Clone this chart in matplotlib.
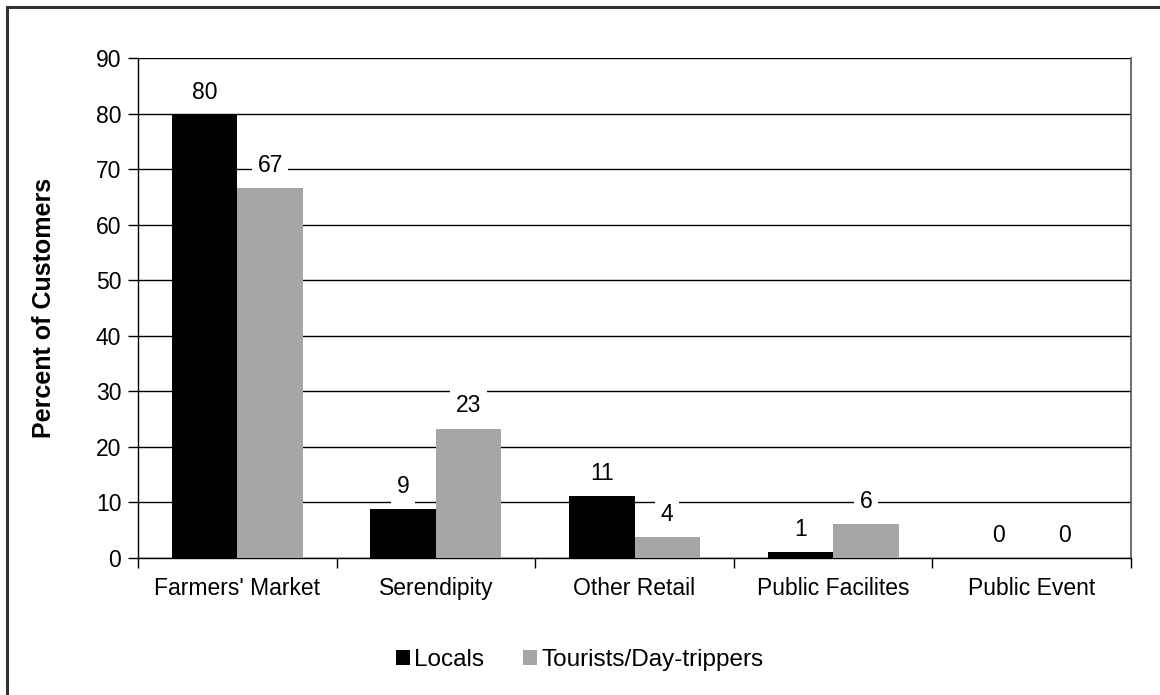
import matplotlib
matplotlib.use("Agg")
import matplotlib.pyplot as plt
import numpy as np
from matplotlib.patches import Rectangle

categories = ["Farmers' Market", "Serendipity", "Other Retail", "Public Facilites", "Public Event"]
locals_vals = [79.7, 8.8, 11.1, 1.1, 0.0]
tourists_vals = [66.6, 23.3, 3.8, 6.1, 0.0]
locals_labels = ["80", "9", "11", "1", "0"]
tourists_labels = ["67", "23", "4", "6", "0"]
series_names = ["Locals", "Tourists/Day-trippers"]
yticks = list(range(0, 91, 10))

plt.rcParams['font.family'] = ['Liberation Sans', 'DejaVu Sans']

W, H = 1160, 695
fig = plt.figure(figsize=(W / 100, H / 100), dpi=100)
ax = fig.add_axes([138 / W, 1 - 558 / H, (1131 - 138) / W, (558 - 58) / H])

FS = 16.5
x = np.arange(len(categories))
bw = 0.33
b1 = ax.bar(x - bw / 2, locals_vals, bw, color='black', label=series_names[0], zorder=3)
b2 = ax.bar(x + bw / 2, tourists_vals, bw, color='#a6a6a6', label=series_names[1], zorder=3)

for rects, labs in ((b1, locals_labels), (b2, tourists_labels)):
    for r, lab in zip(rects, labs):
        ax.annotate(lab, (r.get_x() + r.get_width() / 2, r.get_height()),
                    xytext=(0, 8), textcoords='offset points', ha='center', va='bottom',
                    fontsize=FS, zorder=5,
                    bbox=dict(boxstyle='square,pad=0.25', fc='white', ec='none'))

ax.set_ylim(0, 90)
ax.set_xlim(-0.5, len(categories) - 0.5)
ax.set_yticks(yticks)
ax.set_yticklabels([str(t) for t in yticks], fontsize=FS)
ax.yaxis.grid(True, color='black', linewidth=1, zorder=0)
ax.set_axisbelow(True)

ax.set_xticks(x)
ax.set_xticklabels(categories, fontsize=FS)
ax.tick_params(axis='x', length=0, pad=14)
ax.set_xticks(np.arange(-0.5, len(categories)), minor=True)
ax.tick_params(axis='x', which='minor', length=7, width=1, direction='out')
ax.tick_params(axis='y', length=7, width=1, direction='out', pad=5)

for s in ['left', 'bottom']:
    ax.spines[s].set_color('black')
    ax.spines[s].set_linewidth(1)
ax.spines['top'].set_visible(False)
ax.spines['right'].set_color('#555555')
ax.spines['right'].set_linewidth(1.2)

ax.set_ylabel("Percent of Customers", fontsize=18, fontweight='bold', labelpad=29)

leg = fig.legend(handles=[b1, b2], labels=series_names, loc='center',
                 bbox_to_anchor=(0.5, 1 - 660 / H), ncol=2, frameon=False,
                 fontsize=17.5, handlelength=0.55, handleheight=0.55, handletextpad=0.2,
                 columnspacing=1.6)

fig.patches.append(Rectangle((7 / W, -0.05), 1.1, 1 - 7 / H + 0.05, transform=fig.transFigure,
                             fill=False, ec='#333333', lw=2.2))

fig.savefig("out.png", dpi=100)
